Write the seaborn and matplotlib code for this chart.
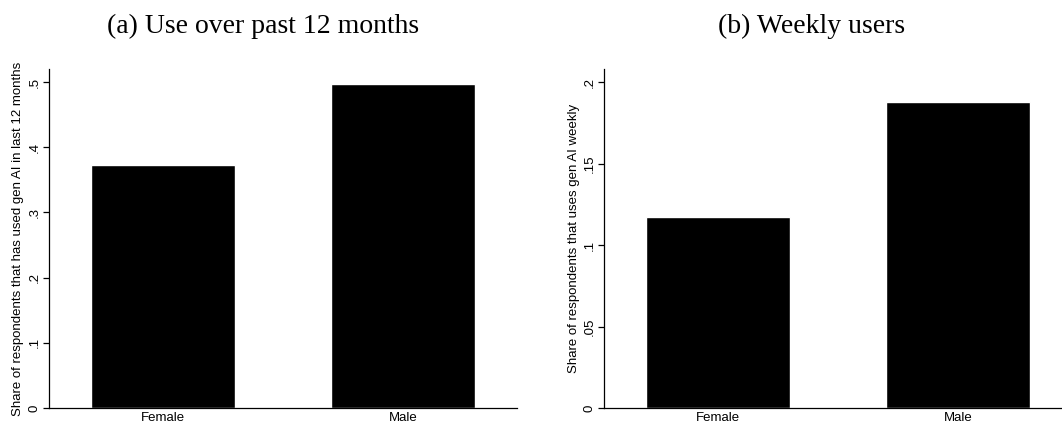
import matplotlib
matplotlib.use("Agg")
import matplotlib.pyplot as plt
import seaborn as sns
import pandas as pd

# values
genders = ["Female", "Male"]
used_12m = [0.373, 0.497]
used_weekly = [0.117, 0.188]

panel_titles = ["(a) Use over past 12 months", "(b) Weekly users"]
y_labels = ["Share of respondents that has used gen AI in last 12 months",
            "Share of respondents that uses gen AI weekly"]
y_ticks = [[0, 0.1, 0.2, 0.3, 0.4, 0.5], [0, 0.05, 0.1, 0.15, 0.2]]
y_tick_labels = [["0", ".1", ".2", ".3", ".4", ".5"], ["0", ".05", ".1", ".15", ".2"]]
y_tops = [0.52, 0.208]

sns.set_style("ticks", {"axes.edgecolor": "black", "text.color": "black",
                        "xtick.color": "black", "ytick.color": "black",
                        "axes.labelcolor": "black"})
plt.rcParams['font.family'] = ['Liberation Sans', 'DejaVu Sans']

fig = plt.figure(figsize=(10.62, 4.23), dpi=100)
ax_pos = [[49 / 1062, 15 / 423, 468 / 1062, 339 / 423],
          [604 / 1062, 15 / 423, 468 / 1062, 339 / 423]]
title_x = [263 / 1062, 812 / 1062]

for i, values in enumerate([used_12m, used_weekly]):
    ax = fig.add_axes(ax_pos[i])
    df = pd.DataFrame({"Gender": genders, "Share": values})
    sns.barplot(data=df, x="Gender", y="Share", color="black", saturation=1,
                width=0.6, ax=ax)
    ax.set_xlim(-0.475, 1.475)
    ax.set_ylim(0, y_tops[i])
    ax.set_yticks(y_ticks[i])
    ax.set_yticklabels(y_tick_labels[i], rotation=90, va="center", fontsize=9.5)
    ax.tick_params(axis="y", length=4, width=0.9, pad=2, colors="black")
    ax.tick_params(axis="x", length=0, labelsize=9.5, pad=3, colors="black")
    ax.set_xlabel("")
    ax.set_ylabel(y_labels[i], fontsize=9.5, labelpad=3, color="black")
    sns.despine(ax=ax)
    for s in ["left", "bottom"]:
        ax.spines[s].set_linewidth(0.9)
        ax.spines[s].set_color("black")
    fig.text(title_x[i], 1 - 33 / 423, panel_titles[i], ha="center", va="baseline",
             fontsize=20, color="black", family=["Liberation Serif", "DejaVu Serif"])

fig.savefig("out.png", dpi=100)
